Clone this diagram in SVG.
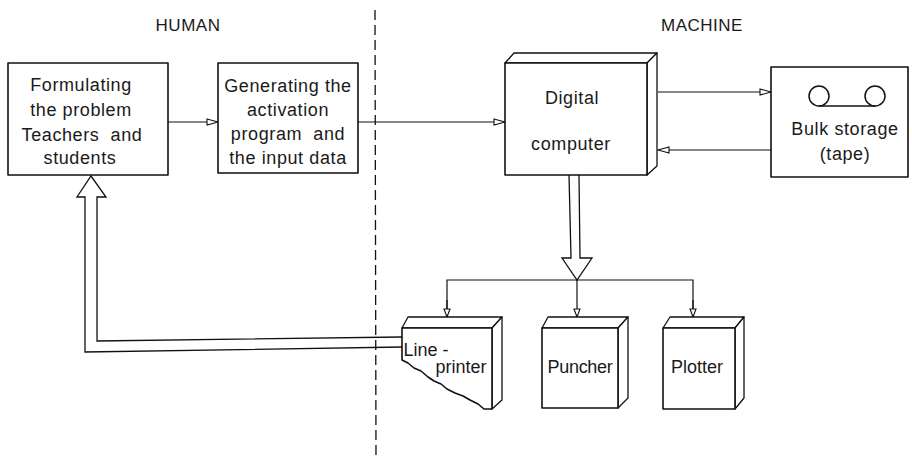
<svg xmlns="http://www.w3.org/2000/svg" width="912" height="462" viewBox="0 0 912 462">
  <style>
    .box { fill: #fff; stroke: #111; stroke-width: 1.6; stroke-linejoin: round; }
    .face { fill: #fff; stroke: #111; stroke-width: 1.3; stroke-linejoin: round; }
    .wire { fill: none; stroke: #111; stroke-width: 1.2; }
    .pipe { fill: none; stroke: #111; stroke-width: 1.3; stroke-linejoin: miter; }
    .label { font-family: "Liberation Sans", Arial, sans-serif; font-size: 18px; fill: #1a1a1a; text-anchor: middle; letter-spacing: 0.6px; white-space: pre; }
    .head { font-family: "Liberation Sans", Arial, sans-serif; font-size: 17px; fill: #1a1a1a; text-anchor: middle; letter-spacing: 0.5px; }
    .divider { stroke: #111; stroke-width: 1.3; stroke-dasharray: 10 5; fill: none; }
  </style>
  <defs>
    <marker id="open-arrow" markerWidth="14" markerHeight="10" refX="12" refY="5" orient="auto" markerUnits="userSpaceOnUse">
      <path d="M1,2 L12,5 L1,8 Z" fill="#fff" stroke="#111" stroke-width="1.1"/>
    </marker>
    <marker id="small-arrow" markerWidth="10" markerHeight="10" refX="9" refY="5" orient="auto" markerUnits="userSpaceOnUse">
      <path d="M1,2 L9,5 L1,8 Z" fill="#fff" stroke="#111" stroke-width="1.1"/>
    </marker>
  </defs>

  <rect width="912" height="462" fill="#fff"/>

  <!-- human / machine boundary -->
  <line class="divider" x1="375" y1="10" x2="376" y2="458"/>
  <text class="head" x="188" y="31">HUMAN</text>
  <text class="head" x="702" y="31">MACHINE</text>

  <!-- connectors -->
  <g id="connectors">
    <line class="wire" x1="168" y1="122" x2="218" y2="122" marker-end="url(#open-arrow)"/>
    <line class="wire" x1="358" y1="122" x2="505" y2="122" marker-end="url(#open-arrow)"/>
    <line class="wire" x1="658" y1="92" x2="771" y2="92" marker-end="url(#open-arrow)"/>
    <line class="wire" x1="771" y1="150" x2="658" y2="150" marker-end="url(#open-arrow)"/>

    <!-- wide output arrow from the computer -->
    <path class="pipe" d="M569,175 L571,258 L562,258 L577,280 L592,258 L580,258 L579,175"/>

    <!-- distribution to output devices -->
    <polyline class="wire" points="447,317 447,280 693,280 693,317"/>
    <line class="wire" x1="447" y1="300" x2="447" y2="317" marker-end="url(#small-arrow)"/>
    <line class="wire" x1="577" y1="280" x2="577" y2="317" marker-end="url(#small-arrow)"/>
    <line class="wire" x1="693" y1="300" x2="693" y2="317" marker-end="url(#small-arrow)"/>

    <!-- wide feedback arrow from the line-printer -->
    <path class="pipe" d="M402,337 L97,341 L97,197 L106,197 L91,176 L77,197 L85,197 L85,352 L402,347"/>
  </g>

  <g id="formulating">
    <rect class="box" x="8" y="63" width="160" height="112"/>
    <text class="label" x="81" y="91">Formulating</text>
    <text class="label" x="81" y="116">the problem</text>
    <text class="label" x="82" y="141" xml:space="preserve">Teachers  and</text>
    <text class="label" x="80" y="164">students</text>
  </g>

  <g id="generating">
    <rect class="box" x="218" y="63" width="140" height="110"/>
    <text class="label" x="288" y="92">Generating the</text>
    <text class="label" x="288" y="116">activation</text>
    <text class="label" x="288" y="140" xml:space="preserve">program  and</text>
    <text class="label" x="288" y="164">the input data</text>
  </g>

  <g id="computer">
    <path class="face" d="M505,63 L514,53 L657,53 L647,63 Z"/>
    <path class="face" d="M647,63 L657,53 L657,166 L647,175 Z"/>
    <rect class="box" x="505" y="63" width="142" height="112"/>
    <text class="label" x="572" y="104">Digital</text>
    <text class="label" x="571" y="150">computer</text>
  </g>

  <g id="bulk-storage">
    <rect class="box" x="771" y="67" width="137" height="110"/>
    <circle cx="819" cy="96" r="10" fill="none" stroke="#111" stroke-width="1.5"/>
    <circle cx="875" cy="96" r="10" fill="none" stroke="#111" stroke-width="1.5"/>
    <line x1="819" y1="106" x2="875" y2="106" stroke="#111" stroke-width="1.3"/>
    <text class="label" x="845" y="135">Bulk storage</text>
    <text class="label" x="845" y="160">(tape)</text>
  </g>

  <g id="line-printer">
    <path class="face" d="M402,328 L408,317 L502,317 L492,328 Z"/>
    <path class="face" d="M492,328 L502,317 L502,400 L492,409 Z"/>
    <path class="box" d="M402,328 L492,328 L492,409 L484,409 L478,404 L470,400 L463,396 L455,393 L447,389 L441,384 L434,381 L428,377 L421,371 L414,368 L408,363 L402,360 Z"/>
    <text class="label" x="426" y="356" style="letter-spacing:0">Line -</text>
    <text class="label" x="461" y="373" style="letter-spacing:0">printer</text>
  </g>

  <g id="puncher">
    <path class="face" d="M542,328 L548,317 L628,317 L618,328 Z"/>
    <path class="face" d="M618,328 L628,317 L628,398 L618,408 Z"/>
    <rect class="box" x="542" y="328" width="76" height="80"/>
    <text class="label" x="580" y="373" style="letter-spacing:-0.3px">Puncher</text>
  </g>

  <g id="plotter">
    <path class="face" d="M663,328 L670,317 L744,317 L735,328 Z"/>
    <path class="face" d="M735,328 L744,317 L744,398 L735,409 Z"/>
    <rect class="box" x="663" y="328" width="72" height="81"/>
    <text class="label" x="697" y="373" style="letter-spacing:0">Plotter</text>
  </g>
</svg>
